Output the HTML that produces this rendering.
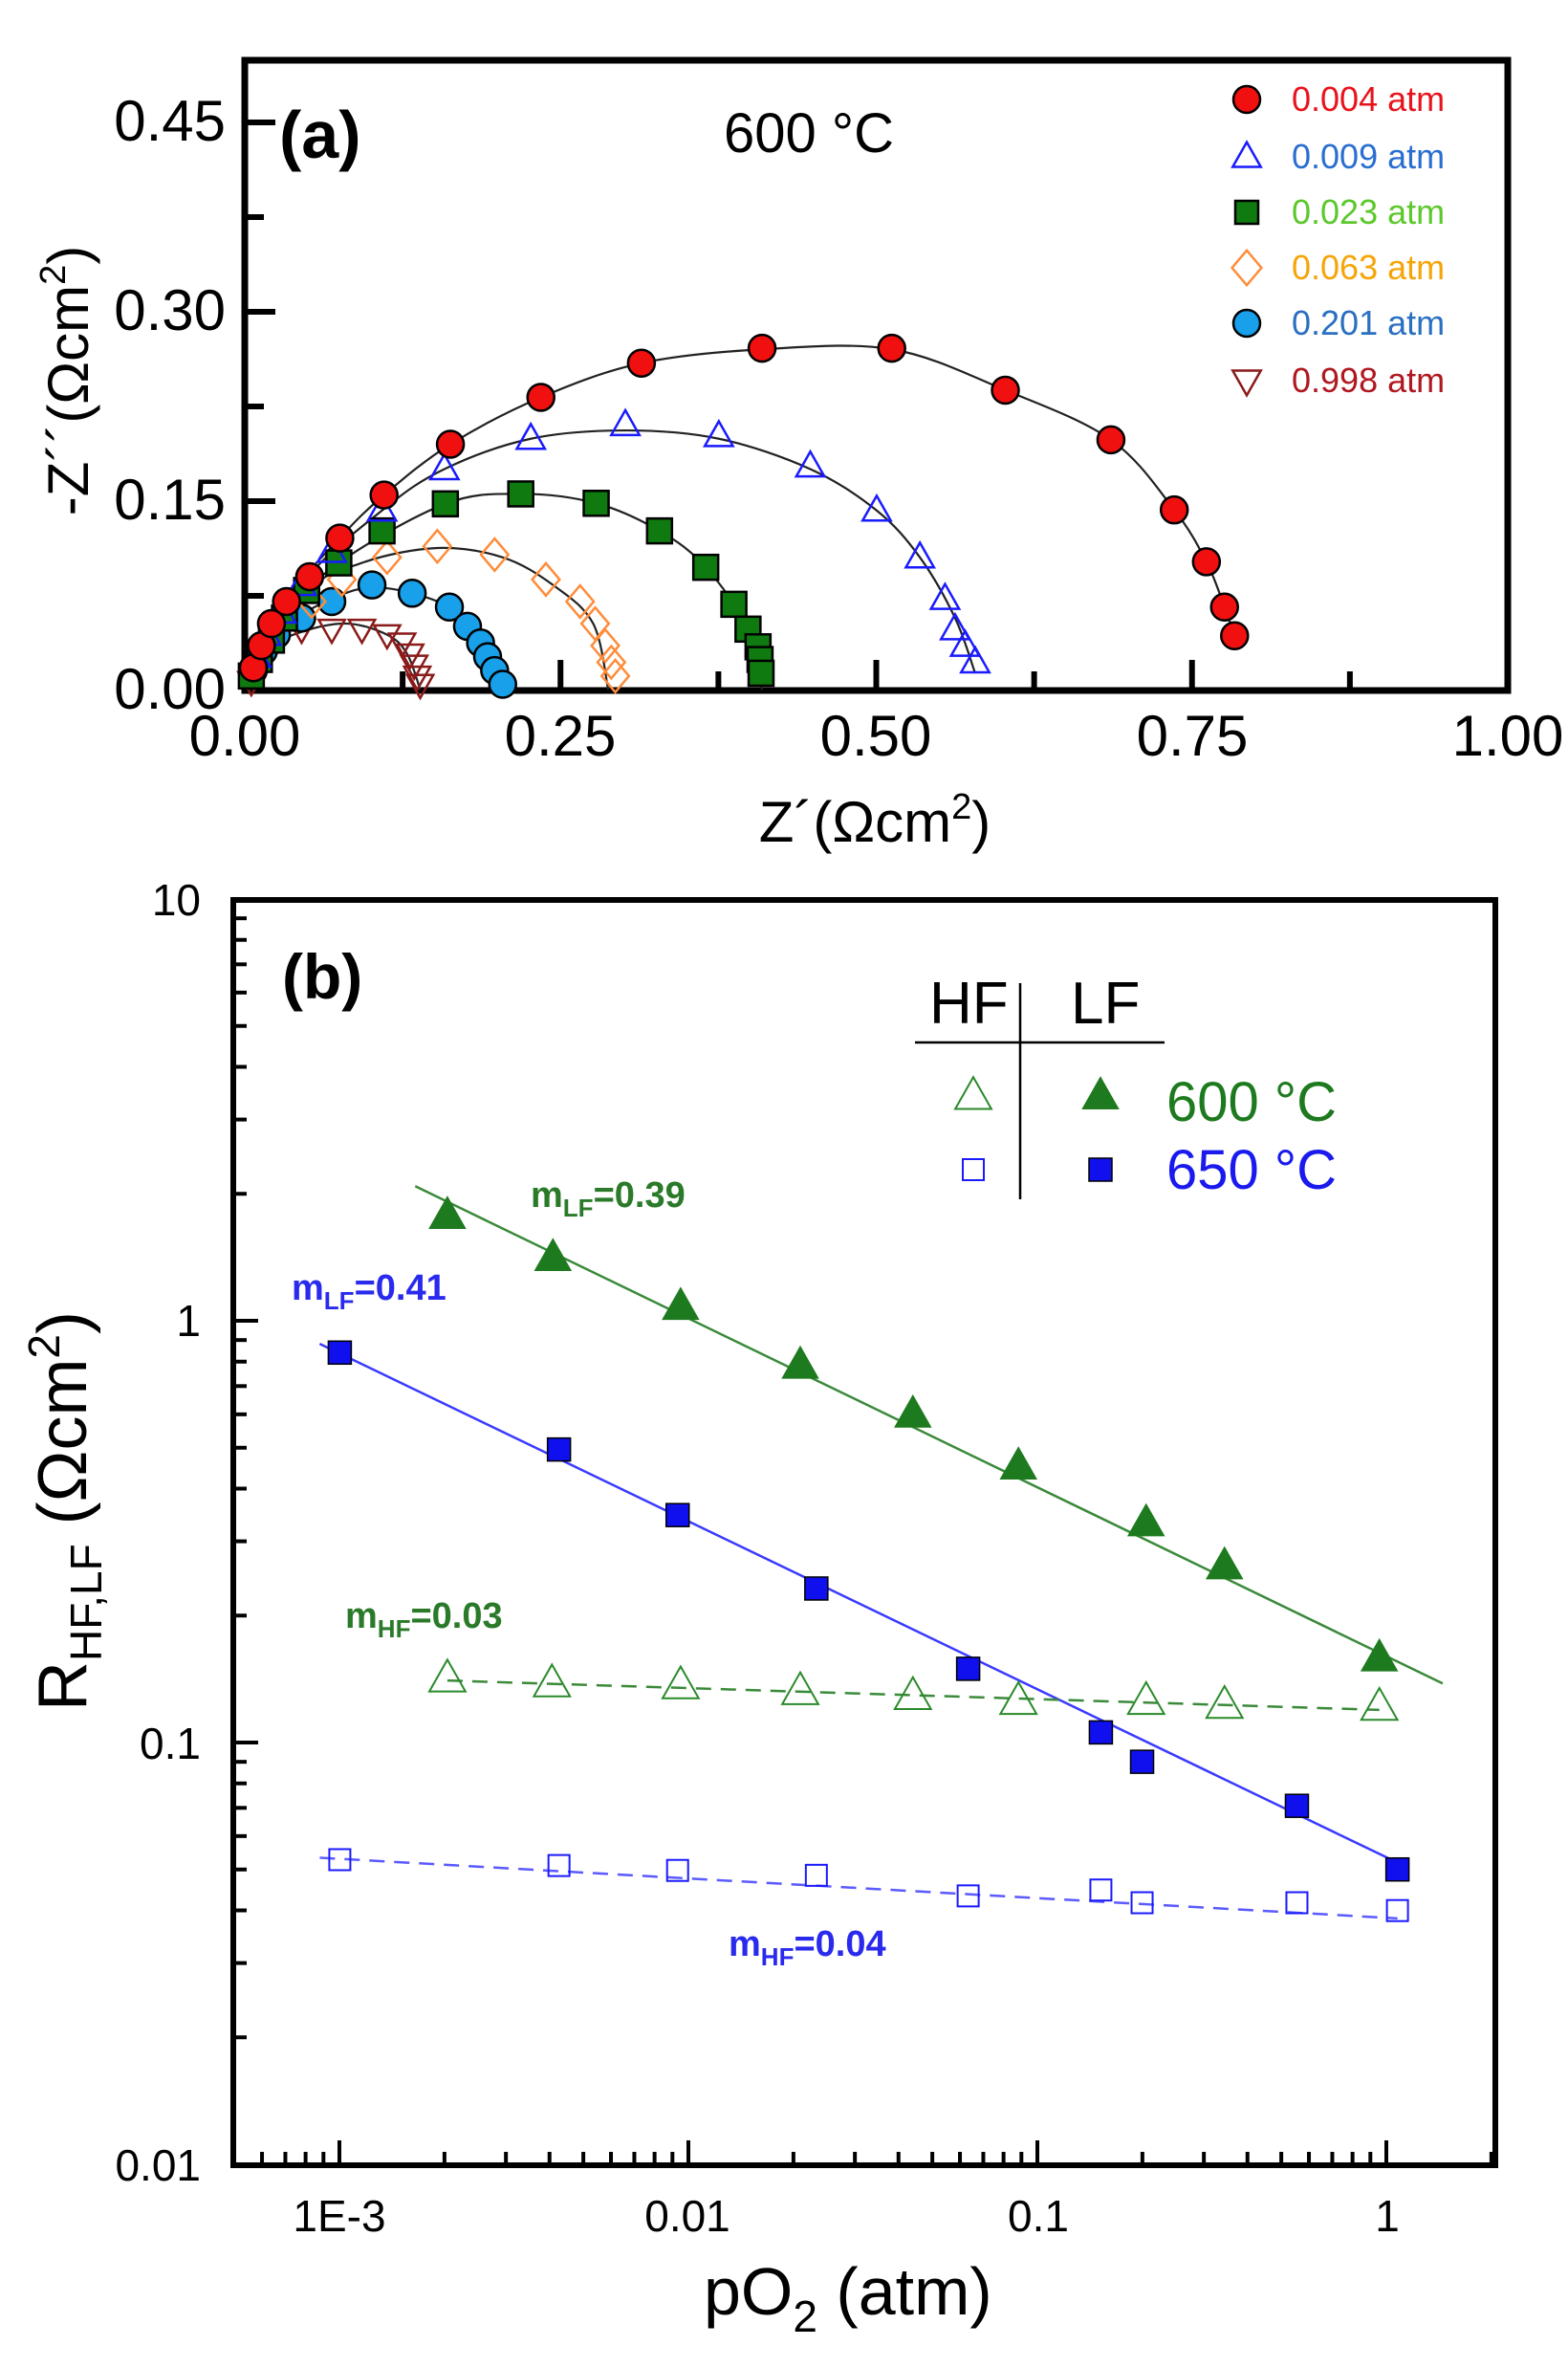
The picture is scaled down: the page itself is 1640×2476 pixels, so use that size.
<!DOCTYPE html>
<html><head><meta charset="utf-8">
<style>
html,body{margin:0;padding:0;background:#fff;}
svg{display:block;}
text{font-family:"Liberation Sans",sans-serif;}
</style></head>
<body>
<svg id="s" width="1640" height="2476" viewBox="0 0 1640 2476" xmlns="http://www.w3.org/2000/svg">
<rect width="1640" height="2476" fill="#fff"/>
<!-- Panel a frame -->
<rect x="256" y="63" width="1321" height="659" fill="none" stroke="#000" stroke-width="7"/>
<g id="ticksA" stroke="#000" stroke-width="6"></g>
<g font-size="60" text-anchor="end" fill="#000">
<text x="236" y="147">0.45</text>
<text x="236" y="345">0.30</text>
<text x="236" y="543">0.15</text>
<text x="236" y="741">0.00</text>
</g>
<g font-size="60" text-anchor="middle" fill="#000">
<text x="256" y="790">0.00</text>
<text x="586" y="790">0.25</text>
<text x="916" y="790">0.50</text>
<text x="1247" y="790">0.75</text>
<text x="1577" y="790">1.00</text>
</g>
<text x="915" y="880" font-size="60" text-anchor="middle">Z´(Ωcm<tspan font-size="38" dy="-24">2</tspan><tspan dy="24">)</tspan></text>
<text transform="translate(92,398) rotate(-90)" font-size="60" text-anchor="middle">-Z´´(Ωcm<tspan font-size="38" dy="-24">2</tspan><tspan dy="24">)</tspan></text>
<text x="292" y="165" font-size="70" font-weight="bold">(a)</text>
<text x="757" y="159" font-size="58">600 °C</text>
<g font-size="36">
<text x="1351" y="116" fill="#e8141c">0.004 atm</text>
<text x="1351" y="176" fill="#2a6fd0">0.009 atm</text>
<text x="1351" y="234" fill="#5cc82c">0.023 atm</text>
<text x="1351" y="292" fill="#f5a50a">0.063 atm</text>
<text x="1351" y="350" fill="#2a6fc0">0.201 atm</text>
<text x="1351" y="410" fill="#b01820">0.998 atm</text>
</g>
<g id="dataA"></g>

<!-- Panel b frame -->
<rect x="244" y="941" width="1320" height="1323" fill="none" stroke="#000" stroke-width="6"/>
<g id="ticksB" stroke="#000" stroke-width="4"></g>
<g font-size="46" text-anchor="end" fill="#000">
<text x="210" y="957">10</text>
<text x="210" y="1397">1</text>
<text x="210" y="1839">0.1</text>
<text x="210" y="2280">0.01</text>
</g>
<g font-size="46" text-anchor="middle" fill="#000">
<text x="355" y="2333">1E-3</text>
<text x="719" y="2333">0.01</text>
<text x="1086" y="2333">0.1</text>
<text x="1451" y="2333">1</text>
</g>
<text x="736" y="2420" font-size="70">pO<tspan font-size="46" dy="18">2</tspan><tspan dy="-18"> (atm)</tspan></text>
<text transform="translate(90,1580) rotate(-90)" font-size="72" text-anchor="middle">R<tspan font-size="46" dy="16">HF,LF</tspan><tspan dy="-16"> (Ωcm</tspan><tspan font-size="46" dy="-28">2</tspan><tspan dy="28">)</tspan></text>
<text x="295" y="1044" font-size="66" font-weight="bold">(b)</text>
<g font-size="62">
<text x="972" y="1070">HF</text>
<text x="1120" y="1070">LF</text>
<text x="1220" y="1172" fill="#1e7a1e" font-size="58">600 °C</text>
<text x="1220" y="1243" fill="#1a1aee" font-size="58">650 °C</text>
</g>
<line x1="957" y1="1090" x2="1218" y2="1090" stroke="#000" stroke-width="2.5"/>
<line x1="1067" y1="1028" x2="1067" y2="1254" stroke="#000" stroke-width="2.5"/>
<g font-size="38" font-weight="bold">
<text x="555" y="1262" fill="#2a7a2a">m<tspan font-size="26" dy="10">LF</tspan><tspan dy="-10">=0.39</tspan></text>
<text x="305" y="1359" fill="#2a2aee">m<tspan font-size="26" dy="10">LF</tspan><tspan dy="-10">=0.41</tspan></text>
<text x="361" y="1702" fill="#2a7a2a">m<tspan font-size="26" dy="10">HF</tspan><tspan dy="-10">=0.03</tspan></text>
<text x="762" y="2045" fill="#2a2aee">m<tspan font-size="26" dy="10">HF</tspan><tspan dy="-10">=0.04</tspan></text>
</g>
<g id="dataB"></g>
</svg>
<script>
var NS="http://www.w3.org/2000/svg";
function el(p,t,a){var e=document.createElementNS(NS,t);for(var k in a)e.setAttribute(k,a[k]);document.getElementById(p).appendChild(e);return e;}
// Ticks panel a
for(var i=0;i<=8;i++){var v=i*0.0625*1;} 
[0,0.075,0.15,0.225,0.3,0.375,0.45].forEach(function(v,i){var y=722-1320*v;el('ticksA','line',{x1:256,y1:y,x2:256+(i%2?20:32),y2:y});});
[0,0.125,0.25,0.375,0.5,0.625,0.75,0.875,1].forEach(function(v,i){var x=256+1321*v;el('ticksA','line',{x1:x,y1:722,x2:x,y2:722-(i%2?20:32)});});
// Ticks panel b
var X0=355,DX=365,Y0=1381,DY=441;
function bx(l){return X0+(l+3)*DX;} function by(l){return Y0-l*DY;}
for(var d=-4;d<=0;d++){for(var m=1;m<10;m++){var x=bx(d+Math.log10(m));if(x<246||x>1562)continue;el('ticksB','line',{x1:x,y1:2264,x2:x,y2:2264-(m==1?26:14)});}}
for(var d=-2;d<=0;d++){for(var m=1;m<10;m++){var y=by(d+Math.log10(m));el('ticksB','line',{x1:244,y1:y,x2:244+(m==1?26:14),y2:y});}}
// Panel a data (display coords from zoom -> orig)
function A(p){return p.map(function(q){return [q[0]/0.951,q[1]/1.733];});}
function curve(g,pts,col,w){var d='M'+pts[0][0]+','+pts[0][1];for(var i=0;i<pts.length-1;i++){var p0=pts[i-1]||pts[i],p1=pts[i],p2=pts[i+1],p3=pts[i+2]||p2;d+=' C'+(p1[0]+(p2[0]-p0[0])/6)+','+(p1[1]+(p2[1]-p0[1])/6)+' '+(p2[0]-(p3[0]-p1[0])/6)+','+(p2[1]-(p3[1]-p1[1])/6)+' '+p2[0]+','+p2[1];}el(g,'path',{d:d,fill:'none',stroke:col,'stroke-width':w});}
function mk(g,t,x,y,s,fill,stroke,sw){
 if(t=='c')el(g,'circle',{cx:x,cy:y,r:s,fill:fill,stroke:stroke,'stroke-width':sw});
 else if(t=='s')el(g,'rect',{x:x-s,y:y-s,width:2*s,height:2*s,fill:fill,stroke:stroke,'stroke-width':sw});
 else if(t=='t')el(g,'polygon',{points:(x)+','+(y-s*1.1)+' '+(x+s*1.05)+','+(y+s*0.75)+' '+(x-s*1.05)+','+(y+s*0.75),fill:fill,stroke:stroke,'stroke-width':sw});
 else if(t=='v')el(g,'polygon',{points:(x)+','+(y+s*1.1)+' '+(x+s*1.05)+','+(y-s*0.75)+' '+(x-s*1.05)+','+(y-s*0.75),fill:fill,stroke:stroke,'stroke-width':sw});
 else if(t=='d')el(g,'polygon',{points:x+','+(y-s*1.3)+' '+(x+s*1.1)+','+y+' '+x+','+(y+s*1.3)+' '+(x-s*1.1)+','+y,fill:fill,stroke:stroke,'stroke-width':sw});
}
var S=[
 {t:'v',f:'none',c:'#8b1a1a',p:[[250,1235],[262,1190],[275,1160],[300,1140],[330,1140],[360,1140],[385,1150],[400,1165],[408,1185],[412,1205],[415,1225],[418,1240]],cv:[[250,1250],[270,1175],[300,1145],[345,1130],[385,1150],[405,1185],[418,1250]]},
 {t:'c',f:'#18a0ea',c:'#000',p:[[252,1215],[262,1180],[275,1150],[300,1120],[330,1090],[370,1060],[410,1075],[447,1100],[465,1135],[478,1165],[485,1190],[492,1215],[500,1240]],cv:[[250,1250],[275,1150],[330,1085],[380,1065],[447,1100],[478,1165],[500,1250]]},
 {t:'d',f:'none',c:'#ff8c3a',p:[[310,1090],[340,1050],[385,1010],[435,990],[492,1005],[543,1050],[577,1090],[592,1130],[602,1170],[608,1200],[612,1225]],cv:[[250,1250],[300,1080],[360,1020],[435,993],[500,1010],[550,1060],[590,1130],[605,1250]]},
 {t:'s',f:'#0f7a0f',c:'#000',p:[[250,1225],[258,1195],[270,1160],[283,1120],[305,1070],[337,1020],[380,962],[443,913],[518,895],[593,912],[656,962],[702,1028],[730,1095],[744,1140],[754,1172],[756,1195],[757,1220]],cv:[[248,1250],[283,1120],[337,1020],[443,913],[518,895],[593,912],[656,962],[702,1028],[744,1140],[758,1250]]},
 {t:'t',f:'none',c:'#1a1aff',p:[[255,1190],[265,1150],[280,1110],[300,1060],[330,1000],[380,925],[442,850],[528,795],[622,770],[715,790],[806,845],[872,925],[915,1010],[940,1085],[950,1140],[960,1170],[970,1200]],cv:[[250,1250],[300,1060],[380,925],[442,850],[528,795],[622,780],[715,795],[806,850],[872,925],[915,1010],[950,1120],[970,1220]]},
 {t:'c',f:'#f01010',c:'#000',p:[[252,1210],[260,1170],[270,1130],[285,1090],[308,1045],[338,975],[382,897],[448,805],[538,720],[638,658],[758,631],[887,631],[1000,707],[1105,797],[1168,924],[1200,1018],[1218,1100],[1228,1152]],cv:[[250,1250],[285,1090],[338,975],[382,897],[448,805],[538,720],[638,658],[758,633],[887,633],[1000,707],[1105,797],[1168,924],[1200,1018],[1218,1100],[1228,1152]]}
];
S.forEach(function(s){curve('dataA',A(s.cv),'#222',2.2);});
S.forEach(function(s){var sz={c:14,s:13,t:14,v:13,d:13}[s.t];A(s.p).forEach(function(q){mk('dataA',s.t,q[0],q[1],sz,s.f,s.c,s.f=='none'?2.5:2.5);});});
// legend a
var L=[['c','#f01010','#000',104],['t','none','#1a1aff',164],['s','#0f7a0f','#000',222],['d','none','#ff8c3a',280],['c','#18a0ea','#000',338],['v','none','#8b1a1a',398]];
L.forEach(function(l){mk('dataA',l[0],1304,l[3],l[0]=='s'?12:14,l[1],l[2],2.5);});
// Panel b
function B(p){return p.map(function(q){return [q[0]/0.951,q[1]/0.977+880];});}
function ln(a,b,col,dash){var p=B([a,b]);var at={x1:p[0][0],y1:p[0][1],x2:p[1][0],y2:p[1][1],stroke:col,'stroke-width':2.5};if(dash)at['stroke-dasharray']='16,10';el('dataB','line',at);}
ln([413,352],[1435,860],'#3a8a3a');
ln([318,513],[1390,1043],'#3a3aff');
ln([445,857],[1372,887],'#3a8a3a',1);
ln([318,1038],[1390,1100],'#5a5aff',1);
B([[445,382],[550,425],[677,475],[796,535],[908,585],[1013,638],[1140,696],[1218,740],[1372,834]]).forEach(function(q){mk('dataB','t',q[0],q[1],18,'#1e7a1e','#1e7a1e',1);});
B([[338,522],[556,621],[674,688],[812,763],[963,845],[1095,910],[1136,940],[1290,985],[1390,1050]]).forEach(function(q){mk('dataB','s',q[0],q[1],12,'#1010ee','#000',1.5);});
B([[445,855],[549,860],[677,862],[796,868],[908,873],[1013,878],[1140,878],[1218,882],[1372,884]]).forEach(function(q){mk('dataB','t',q[0],q[1],18,'none','#2a8a2a',2);});
B([[338,1040],[556,1046],[674,1051],[812,1056],[963,1077],[1095,1071],[1136,1084],[1290,1084],[1390,1092]]).forEach(function(q){mk('dataB','s',q[0],q[1],11,'none','#1a1aff',2);});
mk('dataB','t',1018,1146,18,'none','#2a8a2a',2);
mk('dataB','t',1151,1146,18,'#1e7a1e','#1e7a1e',1);
mk('dataB','s',1018,1223,11,'none','#1a1aff',2);
mk('dataB','s',1151,1223,12,'#1010ee','#000',1.5);
</script>
</body></html>
